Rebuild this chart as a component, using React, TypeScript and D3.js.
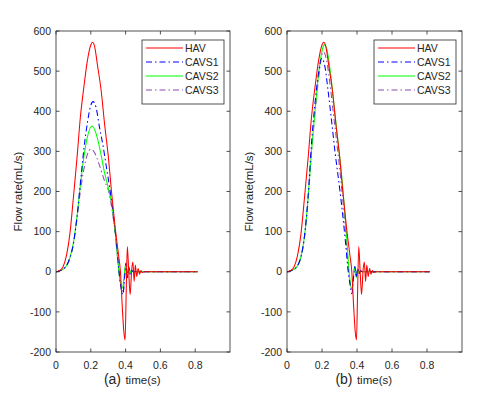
import React from "react";
import * as d3 from "d3";

// ---------- data ----------
const yTicks = [-200, -100, 0, 100, 200, 300, 400, 500, 600];
const xTicks = [0, 0.2, 0.4, 0.6, 0.8];
const seriesNames = ["HAV", "CAVS1", "CAVS2", "CAVS3"];

// HAV (same in both panels)
const tHAV = [0, 0.02, 0.04, 0.06, 0.08, 0.1, 0.12, 0.14, 0.16, 0.18, 0.2, 0.21, 0.22, 0.24, 0.26, 0.28, 0.3, 0.32, 0.34, 0.36, 0.37, 0.38, 0.39, 0.397, 0.403, 0.41, 0.418, 0.426, 0.435, 0.442, 0.449, 0.456, 0.464, 0.472, 0.48, 0.488, 0.496, 0.51, 0.6, 0.815];
const vHAV = [0, 3, 12, 40, 95, 185, 280, 385, 460, 525, 565, 572, 565, 510, 450, 365, 290, 195, 110, 40, 2, -80, -150, -170, -60, 63, 0, -57, 5, 24, -24, 17, -12, 8, -6, 3, -2, 0, 0, 0];

// panel (a)
const tA1 = [0, 0.02, 0.04, 0.06, 0.08, 0.1, 0.12, 0.14, 0.16, 0.18, 0.2, 0.213, 0.23, 0.25, 0.27, 0.29, 0.31, 0.33, 0.35, 0.36, 0.37, 0.385, 0.395, 0.402, 0.41, 0.418, 0.426, 0.434, 0.445, 0.815];
const vA1 = [0, 2, 6, 15, 35, 70, 135, 220, 305, 370, 415, 424, 410, 360, 315, 260, 205, 140, 60, 10, -30, -57, -10, 22, -15, 13, -6, 4, 0, 0];
const tA2 = [0, 0.02, 0.04, 0.06, 0.08, 0.1, 0.12, 0.14, 0.16, 0.18, 0.207, 0.23, 0.255, 0.28, 0.3, 0.32, 0.34, 0.355, 0.365, 0.382, 0.392, 0.4, 0.408, 0.416, 0.424, 0.432, 0.442, 0.815];
const vA2 = [0, 2, 6, 15, 35, 72, 135, 215, 285, 335, 363, 345, 300, 245, 210, 170, 100, 30, -15, -41, -10, 18, -12, 10, -5, 3, 0, 0];
const tA3 = [0, 0.02, 0.04, 0.06, 0.08, 0.1, 0.12, 0.14, 0.16, 0.18, 0.201, 0.22, 0.25, 0.28, 0.303, 0.32, 0.34, 0.355, 0.368, 0.385, 0.394, 0.401, 0.409, 0.417, 0.425, 0.433, 0.443, 0.815];
const vA3 = [0, 2, 6, 15, 34, 68, 130, 200, 255, 292, 306, 298, 265, 225, 200, 160, 95, 30, -20, -50, -12, 20, -14, 11, -5, 3, 0, 0];

// panel (b)
const tB1 = [0, 0.02, 0.04, 0.06, 0.08, 0.1, 0.12, 0.14, 0.16, 0.18, 0.198, 0.215, 0.235, 0.255, 0.274, 0.29, 0.303, 0.32, 0.335, 0.35, 0.36, 0.371, 0.38, 0.388, 0.396, 0.404, 0.412, 0.42, 0.43, 0.815];
const vB1 = [0, 2, 6, 15, 38, 90, 185, 320, 420, 495, 532, 515, 450, 375, 300, 245, 200, 135, 70, 0, -30, -55, -15, 13, -14, 8, -5, 3, 0, 0];
const tB2 = [0, 0.02, 0.04, 0.06, 0.08, 0.1, 0.12, 0.14, 0.16, 0.18, 0.2, 0.213, 0.23, 0.25, 0.27, 0.29, 0.31, 0.33, 0.345, 0.355, 0.372, 0.38, 0.388, 0.396, 0.404, 0.412, 0.42, 0.43, 0.815];
const vB2 = [0, 2, 6, 15, 38, 88, 180, 300, 400, 490, 550, 566, 550, 490, 410, 330, 250, 150, 60, 0, -45, -10, 12, -14, 7, -4, 2, 0, 0];
const tB3 = [0, 0.02, 0.04, 0.06, 0.08, 0.1, 0.12, 0.14, 0.16, 0.18, 0.195, 0.208, 0.225, 0.245, 0.265, 0.285, 0.305, 0.325, 0.34, 0.352, 0.37, 0.379, 0.387, 0.395, 0.403, 0.411, 0.42, 0.43, 0.815];
const vB3 = [0, 2, 6, 15, 36, 85, 175, 295, 395, 480, 530, 548, 530, 470, 395, 320, 240, 150, 70, 0, -42, -10, 12, -13, 7, -4, 2, 0, 0];

const colors = ["#ff0000", "#0000ff", "#00ff00", "#8e4cae"];
const dashes = [null, "6,3,1.5,3", null, "6,3,1.5,3"];

const TXT = "#262626";
const FONT = "'Liberation Sans', Arial, Helvetica, sans-serif";

type S = { t: number[]; v: number[] };

function Panel({ left, right, top, bottom, letter, series, labelX }: { left: number; right: number; top: number; bottom: number; letter: string; series: S[]; labelX: number }) {
  const x = d3.scaleLinear().domain([0, 1]).range([left, right]);
  const y = d3.scaleLinear().domain([-200, 600]).range([bottom, top]);
  const line = d3.line<[number, number]>().x((d) => x(d[0])).y((d) => y(d[1])).curve(d3.curveMonotoneX);
  const tl = 3.5;
  const legX = right - 88;
  const legY = top + 9;
  const rowH = 14;
  const draw = [0, 1, 2, 3];
  return (
    <g>
      <rect x={left} y={top} width={right - left} height={bottom - top} fill="#fff" />
      <g fill="none" strokeWidth={1.05}>
        {[3, 2, 1, 0].map((i) => (
          <path key={i} d={line(series[i].t.map((t, k) => [t, series[i].v[k]] as [number, number])) || ""} stroke={colors[i]} strokeDasharray={dashes[i] || undefined} />
        ))}
      </g>
      <rect x={left} y={top} width={right - left} height={bottom - top} fill="none" stroke={TXT} strokeWidth={0.8} />
      {yTicks.map((v) => (
        <g key={"y" + v}>
          <line x1={left} x2={left + tl} y1={y(v)} y2={y(v)} stroke={TXT} strokeWidth={0.8} />
          <line x1={right} x2={right - tl} y1={y(v)} y2={y(v)} stroke={TXT} strokeWidth={0.8} />
          <text x={left - 5} y={y(v)} dy="0.35em" textAnchor="end" fontSize={10.5} fill={TXT} fontFamily={FONT}>{v}</text>
        </g>
      ))}
      {xTicks.map((v) => (
        <g key={"x" + v}>
          <line x1={x(v)} x2={x(v)} y1={bottom} y2={bottom - tl} stroke={TXT} strokeWidth={0.8} />
          <line x1={x(v)} x2={x(v)} y1={top} y2={top + tl} stroke={TXT} strokeWidth={0.8} />
          <text x={x(v)} y={bottom + 17} textAnchor="middle" fontSize={10.5} fill={TXT} fontFamily={FONT}>{v}</text>
        </g>
      ))}
      <text x={(left + right) / 2} y={bottom + 32} textAnchor="middle" fontSize={11.5} fill={TXT} fontFamily={FONT}>time(s)</text>
      <text x={(left + right) / 2 - 22} y={bottom + 32} textAnchor="end" fontSize={14} fill={TXT} fontFamily={FONT}>{`(${letter})`}</text>
      <text transform={`translate(${labelX},${(top + bottom) / 2}) rotate(-90)`} textAnchor="middle" fontSize={11.5} fill={TXT} fontFamily={FONT}>Flow rate(mL/s)</text>
      <rect x={legX} y={top + 9} width={82} height={64} fill="#fff" stroke={TXT} strokeWidth={0.8} />
      {draw.map((i) => (
        <g key={"l" + i}>
          <line x1={legX + 4} x2={legX + 41} y1={legY + 8 + i * rowH} y2={legY + 8 + i * rowH} stroke={colors[i]} strokeWidth={1.05} strokeDasharray={dashes[i] || undefined} />
          <text x={legX + 43} y={legY + 8 + i * rowH} dy="0.35em" fontSize={10.5} fill={TXT} fontFamily={FONT}>{seriesNames[i]}</text>
        </g>
      ))}
    </g>
  );
}

export default function App() {
  const hav = { t: tHAV, v: vHAV };
  const a = [hav, { t: tA1, v: vA1 }, { t: tA2, v: vA2 }, { t: tA3, v: vA3 }];
  const b = [hav, { t: tB1, v: vB1 }, { t: tB2, v: vB2 }, { t: tB3, v: vB3 }];
  return (
    <svg width={483} height={393} style={{ position: "fixed", left: 0, top: 0, background: "#fff" }}>
      <rect width={483} height={393} fill="#fff" />
      <Panel left={56} right={230} top={31} bottom={352} letter="a" series={a} labelX={22} />
      <Panel left={287} right={462} top={31} bottom={352} letter="b" series={b} labelX={253} />
    </svg>
  );
}
